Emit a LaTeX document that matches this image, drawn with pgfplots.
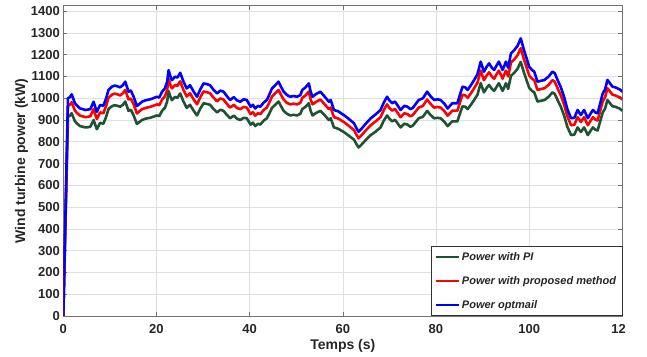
\documentclass[border=0pt]{standalone}
\usepackage{fontspec}
\setmainfont{Liberation Sans}
\usepackage{pgfplots}
\usepackage{pgfplotstable}
\pgfplotsset{compat=1.18}
\definecolor{pigreen}{RGB}{30,82,52}
\definecolor{pired}{RGB}{255,0,0}
\definecolor{piblue}{RGB}{0,0,255}
\pgfplotstableread{
t blue red green
0 0 0 0
0.5 500 482 458
1.0 1000 965 915
1.4 1005 970 920
1.8 1018 982 931
2.5 977 943 894
3.0 965 931 883
3.6 953 920 872
4.2 950 917 869
4.7 946 913 866
5.3 948 915 867
5.8 950 917 869
6.5 984 950 900
7.2 938 905 858
7.9 969 935 887
8.6 965 931 883
9.2 1000 965 915
9.7 1038 1002 950
10.4 1053 1016 963
11.0 1058 1021 968
11.5 1056 1019 966
12.2 1050 1013 961
12.8 1060 1023 970
13.3 1076 1038 985
14.0 1030 994 942
14.5 1035 999 947
15.1 1007 972 921
15.8 964 930 882
16.4 975 941 892
16.9 984 950 900
17.6 990 955 906
18.6 995 960 910
19.3 1000 965 915
20.1 1007 972 921
20.6 1003 968 918
21.2 1030 994 942
21.8 1045 1008 956
22.3 1076 1038 985
22.6 1129 1089 1033
23.0 1100 1062 1007
23.3 1083 1045 991
24.0 1099 1061 1006
24.5 1095 1057 1002
25.1 1117 1078 1022
25.8 1076 1038 985
26.5 1045 1008 956
27.2 1060 1023 970
28.0 1030 994 942
28.7 1007 972 921
29.4 1040 1004 952
30.1 1068 1031 977
30.8 1065 1028 974
31.5 1060 1023 970
32.2 1040 1004 952
33.0 1022 986 935
33.7 1035 999 947
34.4 1030 994 942
35.1 1010 975 924
35.8 992 957 908
36.6 1005 970 920
37.3 990 955 906
38.0 984 950 900
38.7 995 960 910
39.4 992 957 908
40.2 961 927 879
40.7 970 936 888
41.2 953 920 872
41.8 965 931 883
42.3 961 927 879
43.0 980 946 897
43.7 992 957 908
44.3 1020 984 933
44.8 1045 1008 956
45.5 1060 1023 970
46.2 1076 1038 985
46.8 1050 1013 961
47.3 1030 994 942
48.0 1015 979 929
48.7 1007 972 921
49.4 1010 975 924
50.2 1007 972 921
50.9 1015 979 929
51.3 1038 1002 950
52.0 1050 1013 961
52.7 1068 1031 977
53.1 1030 994 942
53.5 1007 972 921
54.3 1020 984 933
55.2 1030 994 942
56.2 1005 970 920
57.0 984 950 900
57.4 992 957 908
58.1 946 913 866
59.0 940 907 860
60.2 923 891 845
61.3 905 873 828
62.4 885 854 810
63.0 860 830 787
63.4 846 816 774
64.1 862 832 789
65.0 885 854 810
66.0 908 876 831
67.0 925 893 846
68.1 946 913 866
68.8 980 946 897
69.5 1007 972 921
70.0 990 955 906
70.6 977 943 894
71.2 985 951 901
71.7 969 935 887
72.4 946 913 866
73.2 965 931 883
73.9 961 927 879
74.5 950 917 869
75.0 955 922 874
75.7 975 941 892
76.3 992 957 908
77.2 1000 965 915
78.1 1030 994 942
78.8 1010 975 924
79.6 992 957 908
80.3 995 960 910
81.0 992 957 908
81.8 975 941 892
82.5 953 920 872
83.0 965 931 883
83.5 977 943 894
84.6 977 943 894
85.2 1020 984 933
85.7 1053 1016 963
86.3 1050 1013 961
86.8 1038 1002 950
87.5 1060 1023 970
88.2 1084 1046 992
88.9 1110 1071 1016
89.6 1168 1127 1069
90.3 1122 1083 1027
90.9 1145 1105 1048
91.4 1160 1119 1061
92.0 1140 1100 1043
92.5 1130 1090 1034
93.0 1150 1110 1052
93.5 1168 1127 1069
94.3 1130 1090 1034
94.7 1150 1110 1052
95.0 1168 1127 1069
95.5 1140 1100 1043
96.1 1206 1164 1103
96.8 1221 1178 1117
97.5 1240 1197 1135
98.2 1275 1230 1167
98.9 1221 1178 1117
99.5 1180 1139 1080
100.0 1145 1105 1048
100.6 1130 1090 1034
101.1 1122 1083 1027
101.8 1076 1038 985
102.5 1080 1042 988
103.3 1084 1046 992
104.2 1100 1062 1007
105.0 1122 1083 1027
105.5 1115 1076 1020
106.1 1084 1046 992
106.8 1050 1013 961
107.5 1007 972 921
108.2 950 917 869
109.0 908 876 831
109.7 910 878 833
110.4 946 913 866
111.1 923 891 845
111.8 946 913 866
112.6 908 876 831
113.2 930 897 851
113.7 946 913 866
114.2 935 902 856
114.7 931 898 852
115.3 980 946 897
115.8 1022 986 935
116.3 1040 1004 952
116.8 1084 1046 992
117.3 1070 1033 979
117.9 1053 1016 963
118.5 1050 1013 961
119.0 1045 1008 956
119.5 1040 1004 952
120.0 1030 994 942
}\powerdata
\begin{document}
\begin{tikzpicture}
\begin{scope}
\clip (-63.3pt,-40pt) rectangle (561.5pt,316pt);
\begin{axis}[
  at={(0pt,0pt)}, anchor=south west,
  scale only axis, width=559pt, height=310.3pt,
  xmin=0, xmax=120, ymin=0, ymax=1425,
  xtick={0,20,...,120}, ytick={0,100,...,1400},
  grid=major, major grid style={black!12, line width=0.6pt},
  axis line style={black!55, line width=0.8pt},
  tick style={black!55, line width=0.6pt},
  tick align=inside, major tick length=4pt,
  /pgf/number format/assume math mode=true,
  /pgf/number format/1000 sep={},
  ticklabel style={font=\fontsize{13}{13}\selectfont\bfseries, text=black!85},
  xticklabel style={yshift=-4.5pt},
  label style={font=\fontsize{14}{14}\selectfont\bfseries, text=black!85},
  xlabel={Temps (s)}, ylabel={Wind turbine power (kW)},
  xlabel style={yshift=1pt}, ylabel style={yshift=-4pt},
  legend style={at={(1,0)}, anchor=south east, draw=black!80, line width=0.6pt,
    font=\fontsize{11}{12}\selectfont\bfseries\itshape, text=black!85,
    row sep=10.5pt, inner xsep=4pt, inner ysep=4pt, cells={anchor=west}},
  legend cell align=left,
  legend image code/.code={\draw[#1, line width=1.6pt] (0pt,0pt) -- (23pt,0pt);},
  every axis plot/.append style={line width=2.6pt, line join=round},
]
\addplot[pigreen] table[x=t, y=green] {\powerdata};
\addlegendentry{Power with PI}
\addplot[pired] table[x=t, y=red] {\powerdata};
\addlegendentry{Power with proposed method}
\addplot[piblue] table[x=t, y=blue] {\powerdata};
\addlegendentry{Power optmail}
\end{axis}
\end{scope}
\pgfresetboundingbox
\path[use as bounding box] (-63.3pt,-40pt) rectangle (583.7pt,316pt);
\end{tikzpicture}
\end{document}
